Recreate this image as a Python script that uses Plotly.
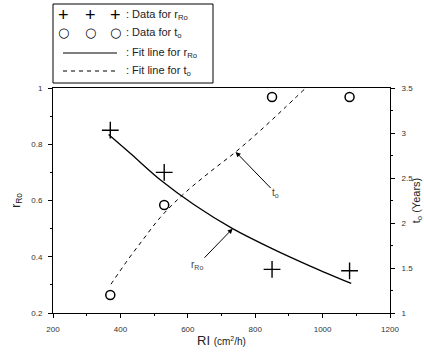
import plotly.graph_objects as go

# ---- data ----
ri_points = [370, 530, 850, 1080]
r_ro_data = [0.85, 0.70, 0.355, 0.35]
t_o_data = [1.2, 2.2, 3.4, 3.4]

r_fit_x = [365, 430, 520, 620, 733, 850, 965, 1085]
r_fit_y = [0.835, 0.767, 0.672, 0.584, 0.50, 0.429, 0.366, 0.305]

t_fit_x = [372, 420, 470, 518, 584, 660, 742, 816, 885, 950]
t_fit_y = [1.32, 1.58, 1.83, 2.06, 2.31, 2.55, 2.79, 3.03, 3.27, 3.50]

x_ticks = [200, 400, 600, 800, 1000, 1200]
r_ticks = [0.2, 0.4, 0.6, 0.8, 1.0]
r_tick_labels = ["0.2", "0.4", "0.6", "0.8", "1"]
t_ticks = [1, 1.5, 2, 2.5, 3, 3.5]
t_tick_labels = ["1", "1.5", "2", "2.5", "3", "3.5"]

W, H = 424, 355
ML, MR, MT, MB = 53, 34, 88, 42
PW, PH = W - ML - MR, H - MT - MB


def px(xp):
    return (xp - ML) / PW


def py(yp):
    return (H - MB - yp) / PH


FONT = "Liberation Sans, Arial, sans-serif"

fig = go.Figure()

fig.add_trace(go.Scatter(x=r_fit_x, y=r_fit_y, mode="lines", line=dict(color="black", width=1.3, shape="spline"),
                         showlegend=False, yaxis="y"))
fig.add_trace(go.Scatter(x=t_fit_x, y=t_fit_y, mode="lines",
                         line=dict(color="black", width=1, dash="4px,4px", shape="spline"),
                         showlegend=False, yaxis="y2"))
fig.add_trace(go.Scatter(x=ri_points, y=r_ro_data, mode="markers",
                         marker=dict(symbol="cross-thin", size=12, line=dict(color="black", width=1.4)),
                         showlegend=False, yaxis="y"))
fig.add_trace(go.Scatter(x=ri_points, y=t_o_data, mode="markers",
                         marker=dict(symbol="circle-open", size=9, color="black", line=dict(color="black", width=1.5)),
                         showlegend=False, yaxis="y2"))

axis_common = dict(showline=True, linecolor="black", linewidth=1, ticks="outside", ticklen=4,
                   tickcolor="black", showgrid=False, zeroline=False, automargin=False,
                   tickfont=dict(family=FONT, size=8, color="#333"))

fig.update_layout(
    width=W, height=H, margin=dict(l=ML, r=MR, t=MT, b=MB),
    paper_bgcolor="white", plot_bgcolor="white",
    xaxis=dict(range=[200, 1200], tickvals=x_ticks, mirror=True, ticklabelstandoff=4,
               minor=dict(ticks="outside", dtick=100, ticklen=2, tickcolor="black"),
               title=dict(text="RI <span style='font-size:10px'>(cm<sup>2</sup>/h)</span>",
                          font=dict(family=FONT, size=13, color="#222"), standoff=3),
               **axis_common),
    yaxis=dict(range=[0.2, 1.0], tickvals=r_ticks, ticktext=r_tick_labels, ticklabelstandoff=4,
               minor=dict(ticks="outside", dtick=0.1, ticklen=2, tickcolor="black"),
               title=dict(text="r<sub>Ro</sub>", font=dict(family=FONT, size=12, color="#222"), standoff=8),
               **axis_common),
    yaxis2=dict(range=[1, 3.5], tickvals=t_ticks, ticktext=t_tick_labels, overlaying="y", side="right",
                ticklabelstandoff=5,
                minor=dict(ticks="outside", dtick=0.25, ticklen=2, tickcolor="black"),
                title=dict(text="t<sub>o</sub> (Years)", font=dict(family=FONT, size=11, color="#222"), standoff=4),
                **axis_common),
)

# arrows with labels
fig.add_annotation(x=733, y=0.50, xref="x", yref="y", ax=628, ay=0.37, axref="x", ayref="y",
                   text="r<sub>Ro</sub>", showarrow=True, arrowhead=2, arrowsize=1, arrowwidth=1,
                   arrowcolor="black", font=dict(family=FONT, size=10, color="#444"))
fig.add_annotation(x=742, y=2.79, xref="x", yref="y2", ax=861, ay=2.33, axref="x", ayref="y2",
                   text="t<sub>o</sub>", showarrow=True, arrowhead=2, arrowsize=1, arrowwidth=1,
                   arrowcolor="black", font=dict(family=FONT, size=10, color="#444"))

# legend box
fig.add_shape(type="rect", xref="paper", yref="paper", x0=px(53), x1=px(213), y0=py(83), y1=py(4),
              line=dict(color="black", width=1), fillcolor="white")
rows_y = [15, 33, 53, 71]
labels = [": Data for r<sub>Ro</sub>", ": Data for t<sub>o</sub>",
          ": Fit line for r<sub>Ro</sub>", ": Fit line for t<sub>o</sub>"]
for ry, lab in zip(rows_y, labels):
    fig.add_annotation(x=px(124), y=py(ry), xref="paper", yref="paper", text=lab, showarrow=False,
                       xanchor="left", yanchor="middle", font=dict(family=FONT, size=11, color="#222"))
for sx in [63, 90, 115]:
    fig.add_annotation(x=px(sx), y=py(rows_y[0]), xref="paper", yref="paper", text="+", showarrow=False,
                       xanchor="center", yanchor="middle", font=dict(family=FONT, size=18, color="black"))
    fig.add_annotation(x=px(sx), y=py(rows_y[1]), xref="paper", yref="paper", text="○", showarrow=False,
                       xanchor="center", yanchor="middle", font=dict(family="DejaVu Sans", size=13, color="black"))
fig.add_shape(type="line", xref="paper", yref="paper", x0=px(63), x1=px(117), y0=py(rows_y[2]), y1=py(rows_y[2]),
              line=dict(color="black", width=1.2))
fig.add_shape(type="line", xref="paper", yref="paper", x0=px(63), x1=px(117), y0=py(rows_y[3]), y1=py(rows_y[3]),
              line=dict(color="black", width=1, dash="4px,4px"))

fig.write_html("out.html", config={"displayModeBar": False},
               post_script="document.body.style.margin='0px';document.body.style.overflow='hidden';")
